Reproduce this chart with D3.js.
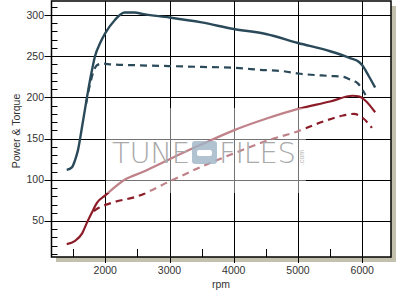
<!DOCTYPE html>
<html>
<head>
<meta charset="utf-8">
<script src="https://cdn.jsdelivr.net/npm/d3@7/dist/d3.min.js"></script>
<style>
  body { margin: 0; background: #fff; }
  svg { display: block; font-family: Arial, "Liberation Sans", sans-serif; }
</style>
</head>
<body>
<svg width="414" height="303"></svg>
<script>
// power curve (solid teal)
const powerRpm = [1400, 1480, 1530, 1575, 1640, 1715, 1780, 1840, 1920, 2000, 2150, 2300, 2450, 2600, 3000, 3500, 4000, 4500, 5000, 5500, 5800, 5950, 6000, 6100, 6200];
const powerVal = [112, 115, 124, 136, 165, 200, 228, 250, 266, 278, 294, 303, 303, 301, 297, 291, 283, 277, 266, 256, 248, 243, 239, 226, 212];

// torque curve (dashed teal)
const torqueRpm = [1700, 1760, 1820, 1870, 1950, 2100, 2500, 3000, 3500, 4000, 4500, 4750, 5000, 5500, 5700, 5800, 5930, 6050];
const torqueVal = [192, 215, 232, 239, 241, 240, 239, 238, 237, 236, 233, 232, 229, 226, 225, 222, 217, 203];

// second power curve (solid red)
const power2Rpm = [1400, 1530, 1640, 1715, 1790, 1870, 2000, 2300, 2600, 3000, 3500, 4000, 4500, 5000, 5500, 5850, 5960, 6050, 6200];
const power2Val = [22, 26, 35, 48, 60, 72, 81, 100, 110, 125, 143, 160, 174, 186, 195, 202, 201, 196, 182];

// second torque curve (dashed red)
const torque2Rpm = [1820, 1900, 2100, 2500, 3000, 3500, 4000, 4500, 5000, 5400, 5700, 5870, 6010, 6150];
const torque2Val = [62, 66, 72, 80, 98, 116, 132, 147, 159, 171, 178, 180, 175, 163];

// tick values
const xMajor = [2000, 3000, 4000, 5000, 6000];
const xMinor = [1500, 2500, 3500, 4500, 5500];
const yMajor = [50, 100, 150, 200, 250, 300];
const yMinor = d3.range(10, 320, 10);

// plot box
const pLeft = 51.5, pRight = 391, pTop = 1, pBottom = 257;

const x = d3.scaleLinear().domain([1163, 6447]).range([pLeft, pRight]);
const y = d3.scaleLinear().domain([6.3, 317]).range([pBottom, pTop]);

const svg = d3.select("svg");

// drop shadow
svg.append("rect")
  .attr("x", pRight).attr("y", 6)
  .attr("width", 5).attr("height", pBottom + 5 - 6)
  .attr("fill", "#c4c0ae");
svg.append("rect")
  .attr("x", 56).attr("y", pBottom)
  .attr("width", pRight + 5 - 56).attr("height", 5)
  .attr("fill", "#c4c0ae");

svg.append("rect")
  .attr("x", pLeft).attr("y", pTop)
  .attr("width", pRight - pLeft).attr("height", pBottom - pTop)
  .attr("fill", "#fff");

// grid
svg.append("g")
  .selectAll("line")
  .data(xMajor)
  .join("line")
  .attr("x1", d => Math.round(x(d)) + 0.5).attr("x2", d => Math.round(x(d)) + 0.5)
  .attr("y1", pTop).attr("y2", pBottom + 6)
  .attr("stroke", "#000");
svg.append("g")
  .selectAll("line")
  .data(yMajor)
  .join("line")
  .attr("x1", pLeft - 7).attr("x2", pRight)
  .attr("y1", d => Math.round(y(d)) + 0.5).attr("y2", d => Math.round(y(d)) + 0.5)
  .attr("stroke", "#000");

// minor ticks
svg.append("g")
  .selectAll("line")
  .data(yMinor.filter(d => d % 50))
  .join("line")
  .attr("x1", pLeft).attr("x2", pLeft + 6)
  .attr("y1", d => Math.round(y(d)) + 0.5).attr("y2", d => Math.round(y(d)) + 0.5)
  .attr("stroke", "#000");
svg.append("g")
  .selectAll("line")
  .data(xMinor)
  .join("line")
  .attr("x1", d => Math.round(x(d)) + 0.5).attr("x2", d => Math.round(x(d)) + 0.5)
  .attr("y1", pBottom - 8).attr("y2", pBottom)
  .attr("stroke", "#000");

// curves
const line = d3.line()
  .x(d => x(d[0]))
  .y(d => y(d[1]))
  .curve(d3.curveMonotoneX);

const series = [
  { rpm: powerRpm, val: powerVal, color: "#2b4a59", dash: null, w: 2.4 },
  { rpm: torqueRpm, val: torqueVal, color: "#2b4a59", dash: "7,5", w: 2.2 },
  { rpm: power2Rpm, val: power2Val, color: "#8c1c28", dash: null, w: 2.2 },
  { rpm: torque2Rpm, val: torque2Val, color: "#8c1c28", dash: "7,5", w: 2.2 }
];

svg.append("g")
  .selectAll("path")
  .data(series)
  .join("path")
  .attr("d", s => line(s.rpm.map((r, i) => [r, s.val[i]])))
  .attr("fill", "none")
  .attr("stroke", s => s.color)
  .attr("stroke-width", s => s.w)
  .attr("stroke-dasharray", s => s.dash)
  .attr("stroke-linejoin", "round");

// watermark
const wm = svg.append("g");
wm.append("rect")
  .attr("x", 106).attr("y", 108)
  .attr("width", 200).attr("height", 85)
  .attr("fill", "#fff").attr("opacity", 0.45);
wm.append("text")
  .attr("x", 112).attr("y", 163)
  .attr("font-family", "'DejaVu Sans', sans-serif")
  .attr("font-weight", 200)
  .attr("font-size", 29)
  .attr("textLength", 78)
  .attr("fill", "#a9a9a9")
  .text("TUNE");
wm.append("rect")
  .attr("x", 192).attr("y", 141)
  .attr("width", 25).attr("height", 23).attr("rx", 3)
  .attr("fill", "#9db3c4").attr("opacity", 0.8);
wm.append("rect")
  .attr("x", 197).attr("y", 150)
  .attr("width", 15).attr("height", 6).attr("rx", 2)
  .attr("fill", "#fff");
wm.append("text")
  .attr("x", 219).attr("y", 163)
  .attr("font-family", "'DejaVu Sans', sans-serif")
  .attr("font-weight", 200)
  .attr("font-size", 29)
  .attr("textLength", 77)
  .attr("fill", "#a9a9a9")
  .text("FILES");
wm.append("text")
  .attr("transform", "translate(304,165) rotate(-90)")
  .attr("font-size", 7)
  .attr("fill", "#b0b0b0")
  .text(".com");

// frame
svg.append("rect")
  .attr("x", pLeft).attr("y", pTop)
  .attr("width", pRight - pLeft).attr("height", pBottom - pTop)
  .attr("fill", "none")
  .attr("stroke", "#000").attr("stroke-width", 1.5);

// tick labels
svg.append("g")
  .selectAll("text")
  .data(yMajor)
  .join("text")
  .attr("x", 44).attr("y", d => y(d) + 3.5)
  .attr("text-anchor", "end")
  .attr("font-size", 10.5)
  .attr("fill", "#333")
  .text(d => d);
svg.append("g")
  .selectAll("text")
  .data(xMajor)
  .join("text")
  .attr("x", d => x(d)).attr("y", 274)
  .attr("text-anchor", "middle")
  .attr("font-size", 10.5)
  .attr("fill", "#333")
  .text(d => d);

// axis titles
svg.append("text")
  .attr("x", 221).attr("y", 288)
  .attr("text-anchor", "middle")
  .attr("font-size", 10.5)
  .attr("fill", "#333")
  .text("rpm");
svg.append("text")
  .attr("transform", "translate(20,131) rotate(-90)")
  .attr("text-anchor", "middle")
  .attr("font-size", 10.5)
  .attr("fill", "#333")
  .text("Power & Torque");
</script>
</body>
</html>
